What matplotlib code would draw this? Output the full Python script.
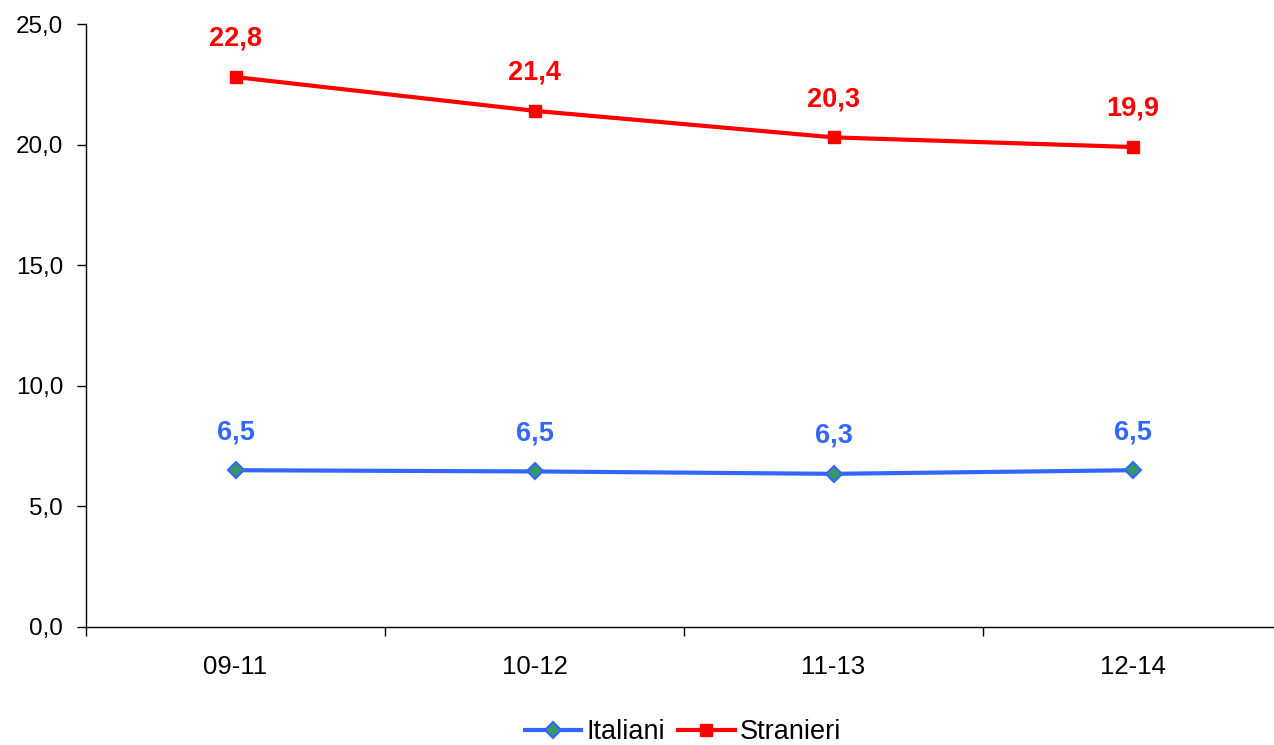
import numpy as np
import matplotlib
matplotlib.use("Agg")
import matplotlib.pyplot as plt
from matplotlib.ticker import FixedLocator, FuncFormatter

periodi = ["09-11", "10-12", "11-13", "12-14"]
italiani = [6.5, 6.45, 6.35, 6.5]
italiani_lab = ["6,5", "6,5", "6,3", "6,5"]
stranieri = [22.8, 21.4, 20.3, 19.9]
stranieri_lab = ["22,8", "21,4", "20,3", "19,9"]

BLU = "#3366FF"
ROSSO = "#FF0000"
VERDE = "#339966"

plt.rcParams["font.family"] = ["Liberation Sans", "DejaVu Sans"]

W, H = 1274, 745
fig = plt.figure(figsize=(W / 100, H / 100), dpi=100)
# assi: sinistra 86px, basso 627px, alto 24px, 299px per categoria
ax = fig.add_axes([86 / W, (H - 627) / H, 4 * 299 / W, 603 / H])

x = np.arange(len(periodi))
ax.plot(x, italiani, color=BLU, lw=3, marker="D", ms=8, mfc=VERDE, mec=BLU,
        mew=1.5, label="Italiani", clip_on=False)
ax.plot(x, stranieri, color=ROSSO, lw=3, marker="s", ms=8.5, mfc=ROSSO, mec=ROSSO,
        label="Stranieri", clip_on=False)

for xi, v, t in zip(x, italiani, italiani_lab):
    ax.annotate(t, (xi, v), xytext=(0, 27.5), textcoords="offset points",
                ha="center", va="center", color=BLU, fontsize=19.5, fontweight="bold")
for xi, v, t in zip(x, stranieri, stranieri_lab):
    ax.annotate(t, (xi, v), xytext=(0, 27.5), textcoords="offset points",
                ha="center", va="center", color=ROSSO, fontsize=19.5, fontweight="bold")

ax.set_xlim(-0.5, 3.5)
ax.set_ylim(0, 25)
ax.set_yticks(np.arange(0, 26, 5))
ax.yaxis.set_major_formatter(FuncFormatter(lambda v, p: f"{v:.1f}".replace(".", ",")))
ax.tick_params(axis="y", direction="out", length=6.5, width=1, pad=10, labelsize=17.5)

ax.xaxis.set_major_locator(FixedLocator([-0.5, 0.5, 1.5, 2.5]))
ax.xaxis.set_major_formatter(FuncFormatter(lambda v, p: ""))
ax.xaxis.set_minor_locator(FixedLocator(x))
ax.set_xticklabels(periodi, minor=True)
ax.tick_params(axis="x", which="major", direction="out", length=6.5, width=1)
ax.tick_params(axis="x", which="minor", length=0, pad=20.5, labelsize=18.5)

for s in ("top", "right"):
    ax.spines[s].set_visible(False)
for s in ("left", "bottom"):
    ax.spines[s].set_linewidth(1)
    ax.spines[s].set_color("black")

fig.legend(loc="center", bbox_to_anchor=(683 / W, 1 - 732 / H), ncol=2, frameon=False,
           fontsize=19.5, handlelength=2.1, handletextpad=0.2, columnspacing=0.45)

fig.savefig("out.png", dpi=100)
